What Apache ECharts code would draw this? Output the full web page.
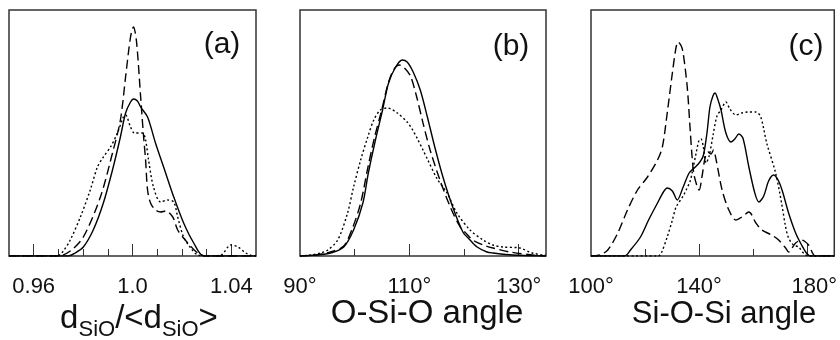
<!DOCTYPE html>
<html>
<head>
<meta charset="utf-8">
<script src="https://cdn.jsdelivr.net/npm/echarts@6/dist/echarts.min.js"></script>
<style>html,body{margin:0;padding:0;background:#fff}#c{width:840px;height:340px}</style>
</head>
<body>
<div id="c"></div>
<script>
// ---------- Panel (a): d_SiO/<d_SiO> ----------
const aSolid = [[0.95,0],[0.974,0],[0.9768,3],[0.9801,9],[0.9841,26],[0.9882,53],[0.9919,86],[0.9951,119],[0.9972,143],[0.9992,154],[1.0004,157],[1.002,155],[1.0033,149],[1.0061,139],[1.0093,113],[1.0126,89],[1.0167,59],[1.0207,33],[1.0248,13],[1.0289,0],[1.05,0]];
const aDashed = [[0.95,0],[0.970,0],[0.9748,5],[0.9801,19],[0.987,59],[0.9919,103],[0.9951,136],[0.9972,179],[0.9992,219],[1.0004,229],[1.0016,215],[1.0033,159],[1.0045,119],[1.0053,96],[1.0061,66],[1.0073,53],[1.0093,46],[1.0114,44],[1.0134,45],[1.0163,39],[1.0183,26],[1.0224,13],[1.0264,3],[1.0297,0],[1.05,0]];
const aDotted = [[0.95,0],[0.9695,0],[0.972,5],[0.9748,16],[0.9789,39],[0.9829,66],[0.9858,89],[0.9882,99],[0.9911,109],[0.9939,123],[0.9963,139],[0.9972,141],[0.9992,129],[1.0008,123],[1.0041,123],[1.0053,116],[1.0065,96],[1.0085,69],[1.0114,54],[1.0142,56],[1.0167,54],[1.0183,39],[1.0207,19],[1.0236,8],[1.0264,1],[1.0305,0],[1.0358,1],[1.0398,11],[1.0427,9],[1.0459,3],[1.0492,0],[1.05,0]];
const aRange = [0.95, 1.05];
const aMinorTicks = [0.97,0.98,0.99,1.01,1.02,1.03];
const aMajorTicks = [0.96,1.0,1.04];
const aLabels = [0.96,1.0,1.04];

// ---------- Panel (b): O-Si-O angle ----------
const bSolid = [[90,0],[92.9,1],[95.6,3],[98,9],[99.8,26],[101.5,53],[102.5,83],[103.8,116],[105.1,146],[106.2,173],[107.5,189],[108.7,196],[109.6,194],[110.7,184],[112,166],[113.3,139],[114.7,108],[116.2,78],[118,48],[119.8,24],[121.1,16],[122.4,9],[124.2,4],[125.3,3],[128.9,1],[134.9,0],[135,0]];
const bDashed = [[90,0],[92.9,1],[95.6,4],[98,10],[99.6,28],[101.1,53],[102.4,88],[103.6,118],[104.9,145],[106.1,172],[107.1,186],[108.2,191],[109.1,188],[110.2,180],[111.3,160],[112.5,133],[113.8,106],[115.6,76],[117.5,49],[119.3,29],[120.5,22],[121.6,16],[123.5,11],[125.3,8],[128.4,4],[132.5,1],[135,0]];
const bDotted = [[90,0],[92,1],[93.8,3],[95.1,6],[96.9,16],[98.7,43],[99.8,69],[101.1,96],[102.4,119],[103.5,136],[104.7,146],[106,148],[107.8,143],[109.6,134],[110.5,127],[111.5,117],[112.5,106],[113.3,97],[115.1,77],[116.9,63],[118.7,43],[121.1,26],[123.5,16],[125.3,11],[127.1,9],[130.2,8],[132.5,3],[134.9,1],[135,1]];
const bRange = [90, 135];
const bMinorTicks = [100,120];
const bMajorTicks = [110,130];
const bLabels = [90,110,130];

// ---------- Panel (c): Si-O-Si angle ----------
const cSolid = [[100,0],[112.4,0],[114.6,6],[118.3,19],[121.3,36],[124.6,53],[126.8,64],[128.2,68],[130.1,65],[131.9,56],[134.1,69],[136.3,83],[138.2,88],[140,93],[141.5,100],[142.9,123],[144,149],[145.1,160],[145.9,163],[147,156],[148.1,146],[149.9,123],[151.8,114],[153.2,117],[154.7,122],[156.2,118],[158.4,89],[160.6,63],[162.1,54],[163.9,60],[165.7,75],[167.6,81],[169.4,75],[170.9,64],[173.1,43],[175.7,23],[177.9,11],[179.7,3],[181.2,0],[190,0]];
const cDashed = [[100,0],[103.2,1],[106.2,6],[109.9,23],[113.5,46],[117.2,66],[120.9,79],[124.6,96],[126.4,109],[128.2,143],[130.1,183],[131.5,209],[132.3,214],[133.4,210],[134.1,203],[135.6,169],[136.7,126],[137.4,99],[138.2,80],[140,66],[141.1,80],[142.2,98],[143.3,104],[144.4,102],[145.3,106],[146.3,96],[148.5,66],[151,46],[153.6,36],[155.8,39],[158.4,44],[161,33],[163.2,26],[166.8,21],[169.4,16],[172,8],[173.1,4],[175.7,13],[177.9,16],[180.5,11],[183,0],[190,0]];
const cDotted = [[100,0],[124.9,0],[126,3],[128.2,19],[130.1,36],[131.5,49],[134.1,60],[135.2,66],[136.7,75],[137.4,83],[138.9,103],[140,116],[140.7,117],[141.5,110],[142.6,93],[143.7,100],[145.1,120],[146.6,140],[148.1,146],[149.9,154],[151.4,147],[153.6,141],[155.8,143],[158.4,144],[161,144],[162.8,139],[165,113],[168.3,83],[170.5,53],[172,29],[173.1,18],[174.9,11],[176.8,9],[178.6,3],[180.4,0],[190,0]];
const cRange = [100, 190];
const cMinorTicks = [120,160];
const cMajorTicks = [140,180];
const cLabels = [100,140,180];

const yRange = [0, 246];
const panelTags = ['(a)', '(b)', '(c)'];
// (a) title pieces: [text, isSubscript]
const aTitlePieces = [['d', false], ['SiO', true], ['/<d', false], ['SiO', true], ['>', false]];
const bTitle = 'O-Si-O angle';
const cTitle = 'Si-O-Si angle';

const FONT = 'Liberation Sans, Arial, Helvetica, sans-serif';
const panels = [
  {range: aRange, minor: aMinorTicks, major: aMajorTicks, labels: aLabels, series: [aSolid, aDashed, aDotted],
   fmt: v => (Math.abs(v - 1) < 1e-9 ? '1.0' : String(+v.toFixed(2))), grid: {left: 9, top: 10, width: 247, height: 246}},
  {range: bRange, minor: bMinorTicks, major: bMajorTicks, labels: bLabels, series: [bSolid, bDashed, bDotted],
   fmt: v => Math.round(v) + '°', grid: {left: 300, top: 10, width: 246, height: 246}},
  {range: cRange, minor: cMinorTicks, major: cMajorTicks, labels: cLabels, series: [cSolid, cDashed, cDotted],
   fmt: v => (Math.round(v) === 180 ? '{r|180°}' : Math.round(v) + '°'), grid: {left: 591, top: 10, width: 245, height: 246}}
];
const lineTypes = ['solid', [9, 4.5], [2, 2.5]];

const grids = [], xAxes = [], yAxes = [], series = [];
panels.forEach((p, i) => {
  grids.push(Object.assign({show: true, borderColor: '#333', borderWidth: 1.5, backgroundColor: 'transparent'}, p.grid));
  xAxes.push({
    type: 'value', gridIndex: i, min: p.range[0], max: p.range[1], position: 'bottom',
    axisLine: {show: false}, splitLine: {show: false},
    axisTick: {show: true, inside: true, length: 7, lineStyle: {color: '#333', width: 1}, customValues: p.minor},
    axisLabel: {show: false}
  });
  xAxes.push({
    type: 'value', gridIndex: i, min: p.range[0], max: p.range[1], position: 'bottom',
    axisLine: {show: false}, splitLine: {show: false},
    axisTick: {show: true, inside: true, length: 12, lineStyle: {color: '#333', width: 1}, customValues: p.major},
    axisLabel: {show: true, customValues: p.labels, margin: 20, fontSize: 22, color: '#111', fontFamily: FONT,
      formatter: p.fmt, hideOverlap: false, showMinLabel: true, showMaxLabel: true,
      rich: {r: {fontSize: 22, color: '#111', fontFamily: FONT, padding: [0, 0, 0, 14]}}}
  });
  yAxes.push({type: 'value', gridIndex: i, min: yRange[0], max: yRange[1], show: false, splitLine: {show: false}});
  p.series.forEach((d, k) => {
    series.push({
      type: 'line', xAxisIndex: 2 * i + 1, yAxisIndex: i, data: d, showSymbol: false, smooth: 0.3,
      lineStyle: {color: '#000', width: 1.4, type: lineTypes[k]}, silent: true, clip: true
    });
  });
});

const tagPos = [[222, 45], [511, 47], [806, 47]];
const graphic = [];
panelTags.forEach((t, i) => graphic.push({type: 'text', x: tagPos[i][0], y: tagPos[i][1],
  style: {text: t, fontSize: 30, fontFamily: FONT, fill: '#111', align: 'center', verticalAlign: 'middle'}}));

// (a) axis title: main text + subscripts laid out side by side
const MAIN_FS = 33, SUB_FS = 22;
const mctx = document.createElement('canvas').getContext('2d');
const widthOf = (t, fs) => { mctx.font = fs + 'px ' + FONT; return mctx.measureText(t).width; };
const totalW = aTitlePieces.reduce((s, [t, sub]) => s + widthOf(t, sub ? SUB_FS : MAIN_FS), 0);
let cx = 139 - totalW / 2;
aTitlePieces.forEach(([t, sub]) => {
  const fs = sub ? SUB_FS : MAIN_FS;
  graphic.push({type: 'text', x: cx, y: sub ? 329.5 : 318.5,
    style: {text: t, fontSize: fs, fontFamily: FONT, fill: '#111', align: 'left', verticalAlign: 'middle'}});
  cx += widthOf(t, fs);
});
graphic.push({type: 'text', x: 427, y: 314,
  style: {text: bTitle, fontSize: 33, fontFamily: FONT, fill: '#111', align: 'center', verticalAlign: 'middle'}});
graphic.push({type: 'text', x: 724, y: 314,
  style: {text: cTitle, fontSize: 31, fontFamily: FONT, fill: '#111', align: 'center', verticalAlign: 'middle'}});

const chart = echarts.init(document.getElementById('c'), null, {renderer: 'canvas'});
chart.setOption({animation: false, backgroundColor: '#fff', grid: grids, xAxis: xAxes, yAxis: yAxes, series: series, graphic: graphic});
</script>
</body>
</html>
